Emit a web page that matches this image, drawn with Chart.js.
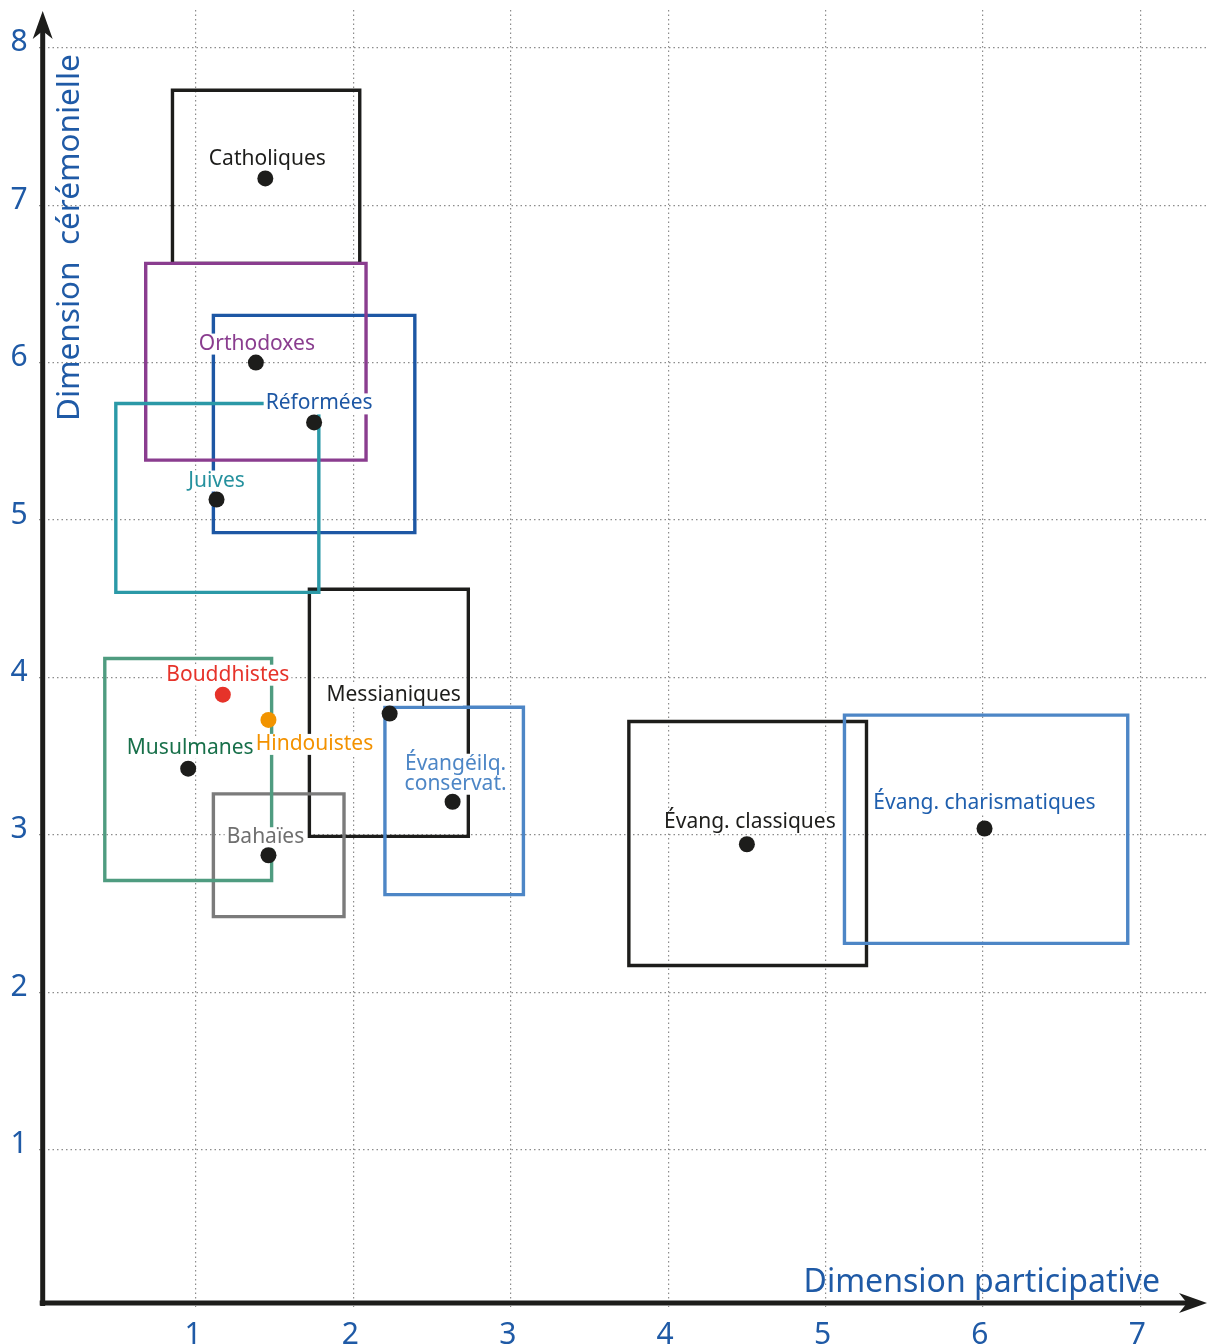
<!DOCTYPE html>
<html><head><meta charset="utf-8">
<script src="https://cdn.jsdelivr.net/npm/chart.js@4/dist/chart.umd.min.js"></script>
<style>html,body{margin:0;padding:0;background:#fff}canvas{display:block}</style>
</head><body>
<canvas id="c" width="1208" height="1344"></canvas>
<script>
// ---- data ----
const names = ['Catholiques','Orthodoxes','Réformées','Juives','Messianiques','Évangéilq.\nconservat.','Musulmanes','Bouddhistes','Hindouistes','Bahaïes','Évang. classiques','Évang. charismatiques'];
const pointX = [1.44,1.38,1.75,1.13,2.23,2.63,0.95,1.17,1.46,1.46,4.50,6.01];
const pointY = [7.17,6.00,5.62,5.13,3.77,3.21,3.42,3.89,3.73,2.87,2.94,3.04];
const boxLeft   = [0.85,0.68,1.11,0.49,1.72,2.20,0.42,null,null,1.11,3.75,5.12];
const boxRight  = [2.04,2.08,2.39,1.78,2.73,3.08,1.48,null,null,1.94,5.26,6.92];
const boxTop    = [7.73,6.63,6.30,5.74,4.56,3.81,4.12,null,null,3.26,3.72,3.76];
const boxBottom = [6.63,5.38,4.92,4.54,2.99,2.62,2.71,null,null,2.48,2.17,2.31];
const xTicks = [1,2,3,4,5,6,7];
const yTicks = [1,2,3,4,5,6,7,8];
const xTitle = 'Dimension participative';
const yTitle = 'Dimension  cérémonielle';

// ---- styles ----
const FONT = '"Noto Sans", "Open Sans", sans-serif';
const AXIS_BLUE = '#1f5aa6';
const boxColor   = ['#1d1d1b','#8a3d8f','#1d57a4','#2b99a7','#1d1d1b','#4d86c6','#4f9c80',null,null,'#7b7b7b','#1d1d1b','#4d86c6'];
const labelColor = ['#1d1d1b','#8a3d8f','#1d57a4','#25919e','#1d1d1b','#4d86c6','#18704a','#e6332a','#f39200','#6f6f6f','#1d1d1b','#1f5fae'];
const dotColor   = ['#1d1d1b','#1d1d1b','#1d1d1b','#1d1d1b','#1d1d1b','#1d1d1b','#1d1d1b','#e6332a','#f29400','#1d1d1b','#1d1d1b','#1d1d1b'];
// label offset from the dot in pixels (center x, baseline y of last line)
const labelDX = [2,1,5,0,4,3,2,5,46,-3,3,0];
const labelDY = [-13,-13,-13,-13,-13,-12,-15,-14,30,-12,-16,-19];
const boxOrder = [3,1,2,0,6,9,5,4,11,10]; // first = on top

Chart.defaults.font.family = FONT;

const datasets = [];
datasets.push({
  type:'scatter',
  data: pointX.map((x,i)=>({x, y: pointY[i]})),
  pointRadius: 8, pointHoverRadius: 8,
  pointBackgroundColor: dotColor, pointBorderWidth: 0, showLine:false
});
boxOrder.forEach(i=>{
  const l=boxLeft[i], r=boxRight[i], t=boxTop[i], b=boxBottom[i];
  datasets.push({
    type:'line',
    data:[{x:l,y:t},{x:r,y:t},{x:r,y:b},{x:l,y:b},{x:l,y:t}],
    borderColor: boxColor[i], borderWidth: 3.4, pointRadius:0, pointHoverRadius:0,
    tension:0, fill:false, borderJoinStyle:'miter', borderCapStyle:'square'
  });
});

const labelPlugin = {
  id:'labels',
  beforeDatasetDraw(chart, args){
    if(args.index!==0) return;
    const ctx=chart.ctx, xs=chart.scales.x, ys=chart.scales.y;
    ctx.save();
    ctx.font = '21px ' + FONT;
    ctx.textAlign='center'; ctx.textBaseline='alphabetic';
    names.forEach((n,i)=>{
      const lines=n.split('\n');
      const cx = xs.getPixelForValue(pointX[i]) + labelDX[i];
      const by = ys.getPixelForValue(pointY[i]) + labelDY[i];
      const lh = 20;
      lines.forEach((ln,k)=>{
        const y = by - (lines.length-1-k)*lh;
        const w = ctx.measureText(ln).width;
        ctx.fillStyle='#fff';
        ctx.fillRect(cx-w/2-2, y-16, w+4, 21);
      });
      lines.forEach((ln,k)=>{
        const y = by - (lines.length-1-k)*lh;
        ctx.fillStyle=labelColor[i];
        ctx.fillText(ln, cx, y);
      });
    });
    ctx.restore();
  }
};

const axesPlugin = {
  id:'axes',
  afterDraw(chart){
    const ctx=chart.ctx, xs=chart.scales.x, ys=chart.scales.y, a=chart.chartArea;
    const x0 = xs.getPixelForValue(0)+4, y0 = ys.getPixelForValue(0)-4;
    ctx.save();
    ctx.strokeStyle='#1d1d1b'; ctx.fillStyle='#1d1d1b'; ctx.lineWidth=5;
    ctx.beginPath(); ctx.moveTo(x0, y0+3); ctx.lineTo(x0, a.top+20); ctx.stroke();
    ctx.beginPath(); ctx.moveTo(x0-3, y0); ctx.lineTo(a.right-20, y0); ctx.stroke();
    // arrow heads
    ctx.beginPath();
    ctx.moveTo(x0, a.top+1); ctx.lineTo(x0+10, a.top+29); ctx.lineTo(x0, a.top+21); ctx.lineTo(x0-10, a.top+29); ctx.closePath(); ctx.fill();
    ctx.beginPath();
    ctx.moveTo(a.right-1, y0); ctx.lineTo(a.right-29, y0-10); ctx.lineTo(a.right-21, y0); ctx.lineTo(a.right-29, y0+10); ctx.closePath(); ctx.fill();
    // titles
    ctx.fillStyle=AXIS_BLUE;
    ctx.font='32px '+FONT;
    ctx.textAlign='right'; ctx.textBaseline='alphabetic';
    ctx.fillText(xTitle, 1160, 1292);
    ctx.translate(79, 421); ctx.rotate(-Math.PI/2);
    ctx.textAlign='left';
    ctx.font='31.5px '+FONT;
    ctx.fillText(yTitle, 0, 0);
    ctx.restore();
  }
};

function zeroPad(s){ s.paddingLeft=0; s.paddingRight=0; s.paddingTop=0; s.paddingBottom=0; }

new Chart(document.getElementById('c'), {
  type:'scatter',
  data:{datasets},
  options:{
    responsive:false, animation:false, devicePixelRatio:1,
    layout:{autoPadding:false, padding:{top:10,left:0,right:0,bottom:0}},
    plugins:{legend:{display:false}, tooltip:{enabled:false}},
    events:[],
    scales:{
      x:{type:'linear', min:0, max:7.43,
        afterBuildTicks:s=>{s.ticks=xTicks.map(v=>({value:v}));},
        afterFit:s=>{s.height=37; zeroPad(s);},
        grid:{color:'#8c8c8c', lineWidth:1.2, drawTicks:false},
        border:{display:false, dash:[1.5,3]},
        ticks:{color:AXIS_BLUE, font:{size:30}, padding:10, labelOffset:-3, maxRotation:0, autoSkip:false}
      },
      y:{type:'linear', min:0, max:8.24,
        afterBuildTicks:s=>{s.ticks=yTicks.map(v=>({value:v}));},
        afterFit:s=>{s.width=38.7; zeroPad(s);},
        grid:{color:'#8c8c8c', lineWidth:1.2, drawTicks:false},
        border:{display:false, dash:[1.5,3]},
        ticks:{color:AXIS_BLUE, font:{size:30}, padding:11, labelOffset:-5, autoSkip:false}
      }
    }
  },
  plugins:[labelPlugin, axesPlugin]
});
</script>
</body></html>
